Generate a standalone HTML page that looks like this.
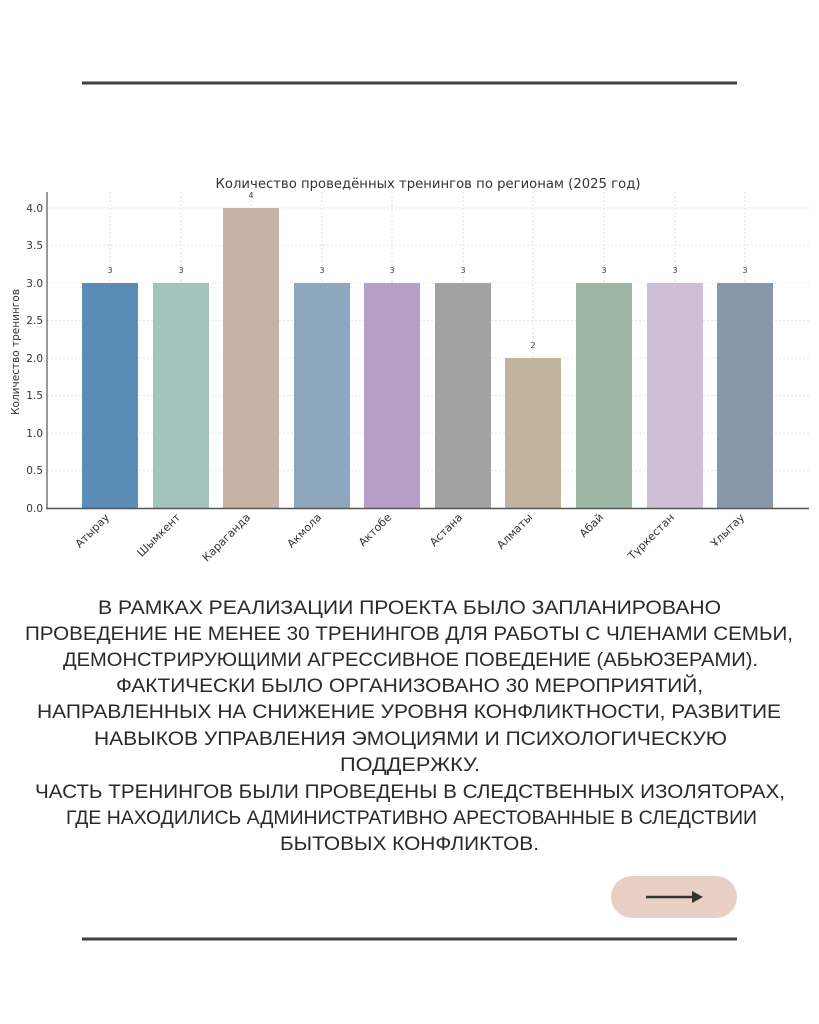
<!DOCTYPE html>
<html><head><meta charset="utf-8"><style>
html,body{margin:0;padding:0;background:#fff;}
svg{display:block;}
</style></head><body>
<svg width="819" height="1024" viewBox="0 0 819 1024" xmlns="http://www.w3.org/2000/svg" font-family="Liberation Sans, DejaVu Sans, sans-serif">
<rect width="819" height="1024" fill="#fff"/>
<rect x="82" y="81.5" width="655" height="3" fill="#3f3f3f"/>
<rect x="82" y="937.5" width="655" height="3" fill="#3f3f3f"/>
<text x="428" y="188" font-size="13" text-anchor="middle" fill="#333" font-family="DejaVu Sans, sans-serif" textLength="425" lengthAdjust="spacingAndGlyphs">Количество проведённых тренингов по регионам (2025 год)</text>
<g stroke="#ddd" stroke-width="0.8" stroke-dasharray="2,2">
<line x1="47" y1="208" x2="809" y2="208"/><line x1="47" y1="245.5" x2="809" y2="245.5"/><line x1="47" y1="283" x2="809" y2="283"/><line x1="47" y1="320.5" x2="809" y2="320.5"/><line x1="47" y1="358" x2="809" y2="358"/><line x1="47" y1="395.5" x2="809" y2="395.5"/><line x1="47" y1="433" x2="809" y2="433"/><line x1="47" y1="470.5" x2="809" y2="470.5"/>
</g>
<g stroke="#ddd" stroke-width="0.8" stroke-dasharray="2,2">
<line x1="110" y1="192" x2="110" y2="508"/><line x1="181" y1="192" x2="181" y2="508"/><line x1="251" y1="192" x2="251" y2="508"/><line x1="322" y1="192" x2="322" y2="508"/><line x1="392" y1="192" x2="392" y2="508"/><line x1="463" y1="192" x2="463" y2="508"/><line x1="533" y1="192" x2="533" y2="508"/><line x1="604" y1="192" x2="604" y2="508"/><line x1="675" y1="192" x2="675" y2="508"/><line x1="745" y1="192" x2="745" y2="508"/>
</g>
<g>
<rect x="82" y="283" width="56" height="225" fill="#5b8db9"/>
<rect x="153" y="283" width="56" height="225" fill="#a3c4bc"/>
<rect x="223" y="208" width="56" height="300" fill="#c7b3a5"/>
<rect x="294" y="283" width="56" height="225" fill="#8ea7bf"/>
<rect x="364" y="283" width="56" height="225" fill="#b59fc8"/>
<rect x="435" y="283" width="56" height="225" fill="#a2a2a2"/>
<rect x="505" y="358" width="56" height="150" fill="#c0b49f"/>
<rect x="576" y="283" width="56" height="225" fill="#9eb6a4"/>
<rect x="647" y="283" width="56" height="225" fill="#cfbfd6"/>
<rect x="717" y="283" width="56" height="225" fill="#8898a8"/>
</g>
<g font-size="8" fill="#444" text-anchor="middle" font-family="DejaVu Sans, sans-serif">
<text x="110" y="273">3</text><text x="181" y="273">3</text><text x="251" y="198">4</text><text x="322" y="273">3</text><text x="392" y="273">3</text><text x="463" y="273">3</text><text x="533" y="348">2</text><text x="604" y="273">3</text><text x="675" y="273">3</text><text x="745" y="273">3</text>
</g>
<line x1="47" y1="192" x2="47" y2="509" stroke="#555" stroke-width="1.2"/>
<line x1="46" y1="508.5" x2="809" y2="508.5" stroke="#555" stroke-width="1.5"/>
<g font-size="10.5" fill="#333" text-anchor="end" font-family="DejaVu Sans, sans-serif">
<text x="43" y="512">0.0</text><text x="43" y="474">0.5</text><text x="43" y="437">1.0</text><text x="43" y="399">1.5</text><text x="43" y="362">2.0</text><text x="43" y="324">2.5</text><text x="43" y="287">3.0</text><text x="43" y="249">3.5</text><text x="43" y="212">4.0</text>
</g>
<text transform="translate(19,352) rotate(-90)" font-size="10.5" fill="#333" text-anchor="middle" font-family="DejaVu Sans, sans-serif">Количество тренингов</text>
<g font-size="11" fill="#333" text-anchor="end" font-family="DejaVu Sans, sans-serif">
<text transform="translate(110,518) rotate(-45)">Атырау</text>
<text transform="translate(181,518) rotate(-45)">Шымкент</text>
<text transform="translate(251,518) rotate(-45)">Караганда</text>
<text transform="translate(322,518) rotate(-45)">Акмола</text>
<text transform="translate(392,518) rotate(-45)">Актобе</text>
<text transform="translate(463,518) rotate(-45)">Астана</text>
<text transform="translate(533,518) rotate(-45)">Алматы</text>
<text transform="translate(604,518) rotate(-45)">Абай</text>
<text transform="translate(675,518) rotate(-45)">Түркестан</text>
<text transform="translate(745,518) rotate(-45)">Ұлытау</text>
</g>
<g font-size="19" fill="#2a2a2a">
<text x="98" y="614" textLength="623" lengthAdjust="spacingAndGlyphs">В РАМКАХ РЕАЛИЗАЦИИ ПРОЕКТА БЫЛО ЗАПЛАНИРОВАНО</text>
<text x="25" y="640" textLength="768" lengthAdjust="spacingAndGlyphs">ПРОВЕДЕНИЕ НЕ МЕНЕЕ 30 ТРЕНИНГОВ ДЛЯ РАБОТЫ С ЧЛЕНАМИ СЕМЬИ,</text>
<text x="63" y="666" textLength="695" lengthAdjust="spacingAndGlyphs">ДЕМОНСТРИРУЮЩИМИ АГРЕССИВНОЕ ПОВЕДЕНИЕ (АБЬЮЗЕРАМИ).</text>
<text x="116" y="692" textLength="587" lengthAdjust="spacingAndGlyphs">ФАКТИЧЕСКИ БЫЛО ОРГАНИЗОВАНО 30 МЕРОПРИЯТИЙ,</text>
<text x="37" y="718" textLength="744" lengthAdjust="spacingAndGlyphs">НАПРАВЛЕННЫХ НА СНИЖЕНИЕ УРОВНЯ КОНФЛИКТНОСТИ, РАЗВИТИЕ</text>
<text x="94" y="745" textLength="633" lengthAdjust="spacingAndGlyphs">НАВЫКОВ УПРАВЛЕНИЯ ЭМОЦИЯМИ И ПСИХОЛОГИЧЕСКУЮ</text>
<text x="340" y="771" textLength="140" lengthAdjust="spacingAndGlyphs">ПОДДЕРЖКУ.</text>
<text x="35" y="798" textLength="750" lengthAdjust="spacingAndGlyphs">ЧАСТЬ ТРЕНИНГОВ БЫЛИ ПРОВЕДЕНЫ В СЛЕДСТВЕННЫХ ИЗОЛЯТОРАХ,</text>
<text x="66" y="824" textLength="691" lengthAdjust="spacingAndGlyphs">ГДЕ НАХОДИЛИСЬ АДМИНИСТРАТИВНО АРЕСТОВАННЫЕ В СЛЕДСТВИИ</text>
<text x="280" y="850" textLength="259" lengthAdjust="spacingAndGlyphs">БЫТОВЫХ КОНФЛИКТОВ.</text>
</g>
<rect x="611" y="876" width="126" height="42" rx="21" fill="#e8d1c4"/>
<line x1="646" y1="897" x2="694" y2="897" stroke="#333" stroke-width="2.5"/>
<polygon points="692,891 703,897 692,903" fill="#333"/>
</svg>
</body></html>
